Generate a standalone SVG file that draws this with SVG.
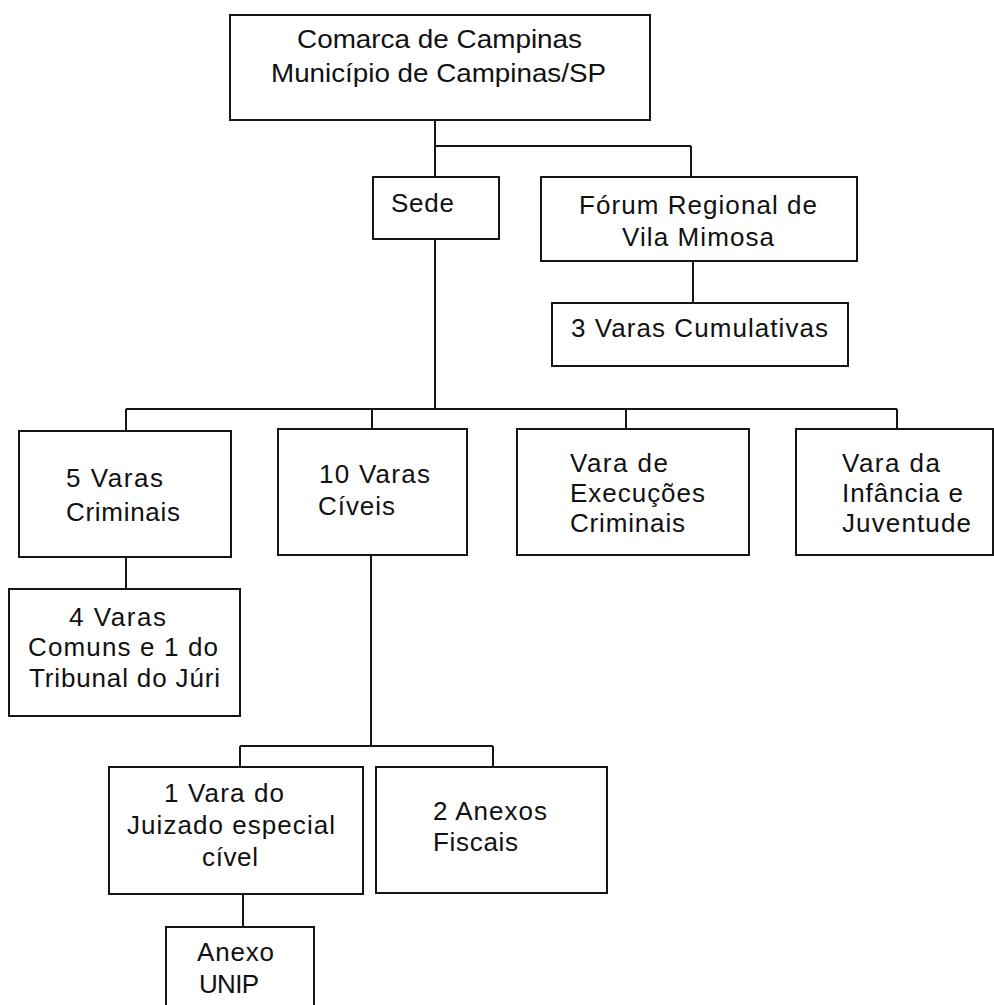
<svg xmlns="http://www.w3.org/2000/svg" width="994" height="1005" viewBox="0 0 994 1005">
<style>
.box{fill:#fff;stroke:#161616;stroke-width:2}
.ln{fill:none;stroke:#161616;stroke-width:2}
text{font-family:"Liberation Sans",Arial,sans-serif;font-size:26px;fill:#111}
</style>
<rect width="994" height="1005" fill="#fff"/>
<g id="connectors">
<path class="ln" d="M435,120V146M435,146H691M435,146V177M691,146V177"/>
<path class="ln" d="M693,261V303"/>
<path class="ln" d="M435,239V409M126,409H897M126,409V431M372,409V429M626,409V429M897,409V429"/>
<path class="ln" d="M126,557V589"/>
<path class="ln" d="M371,555V746M240,746H493M240,746V767M493,746V767"/>
<path class="ln" d="M243,894V927"/>
</g>
<g id="comarca">
<rect class="box" x="230" y="15" width="420" height="105"/>
<text x="297" y="48" textLength="285" lengthAdjust="spacingAndGlyphs">Comarca de Campinas</text>
<text x="271" y="82" textLength="335" lengthAdjust="spacingAndGlyphs">Município de Campinas/SP</text>
</g>
<g id="sede">
<rect class="box" x="373" y="177" width="126" height="62"/>
<text x="391" y="212" textLength="63">Sede</text>
</g>
<g id="forum">
<rect class="box" x="541" y="177" width="316" height="84"/>
<text x="579" y="214" textLength="238">Fórum Regional de</text>
<text x="622" y="246" textLength="152">Vila Mimosa</text>
</g>
<g id="cumulativas">
<rect class="box" x="552" y="303" width="296" height="63"/>
<text x="571" y="337" textLength="257">3 Varas Cumulativas</text>
</g>
<g id="criminais">
<rect class="box" x="19" y="431" width="212" height="126"/>
<text x="66" y="487" textLength="97">5 Varas</text>
<text x="66" y="521" textLength="114">Criminais</text>
</g>
<g id="civeis">
<rect class="box" x="278" y="429" width="189" height="126"/>
<text x="319" y="483" textLength="111">10 Varas</text>
<text x="318" y="515" textLength="77">Cíveis</text>
</g>
<g id="execucoes">
<rect class="box" x="517" y="429" width="232" height="126"/>
<text x="570" y="472" textLength="98">Vara de</text>
<text x="570" y="502" textLength="135">Execuções</text>
<text x="570" y="532" textLength="115">Criminais</text>
</g>
<g id="infancia">
<rect class="box" x="796" y="429" width="197" height="126"/>
<text x="842" y="472" textLength="98">Vara da</text>
<text x="842" y="502" textLength="121">Infância e</text>
<text x="842" y="532" textLength="129">Juventude</text>
</g>
<g id="comuns">
<rect class="box" x="9" y="589" width="231" height="127"/>
<text x="69" y="626" textLength="97">4 Varas</text>
<text x="28" y="656" textLength="190">Comuns e 1 do</text>
<text x="29" y="687" textLength="191">Tribunal do Júri</text>
</g>
<g id="juizado">
<rect class="box" x="109" y="767" width="254" height="127"/>
<text x="164" y="802" textLength="120">1 Vara do</text>
<text x="127" y="834" textLength="208">Juizado especial</text>
<text x="202" y="866" textLength="56">cível</text>
</g>
<g id="anexos-fiscais">
<rect class="box" x="376" y="767" width="231" height="126"/>
<text x="433" y="820" textLength="114">2 Anexos</text>
<text x="433" y="851" textLength="85">Fiscais</text>
</g>
<g id="anexo-unip">
<rect class="box" x="166" y="927" width="148" height="100"/>
<text x="197" y="961" textLength="77">Anexo</text>
<text x="199" y="993" textLength="60">UNIP</text>
</g>
</svg>
